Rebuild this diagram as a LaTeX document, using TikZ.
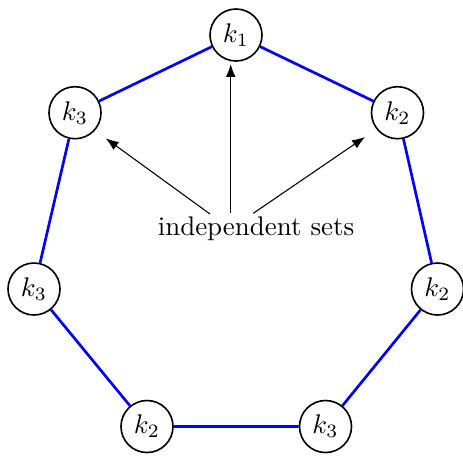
\documentclass[tikz,border=0pt]{standalone}
\usetikzlibrary{arrows.meta}
\begin{document}
\begin{tikzpicture}[x=0.3711pt,y=-0.3711pt,
  vtx/.style={circle,draw,line width=0.6pt,minimum size=19.3pt,inner sep=0pt},
  edge/.style={blue,line width=1pt},
  arr/.style={-{Latex},line width=0.4pt}]
\useasboundingbox (0,0) rectangle (463,455);
\node[vtx] (a) at (236,35) {$k_1$};
\node[vtx] (b) at (397.5,112.7) {$k_2$};
\node[vtx] (c) at (437.5,289) {$k_2$};
\node[vtx] (d) at (325.5,426.5) {$k_3$};
\node[vtx] (e) at (147,426.5) {$k_2$};
\node[vtx] (f) at (34,289) {$k_3$};
\node[vtx] (g) at (75,112.7) {$k_3$};
\draw[edge] (a) -- (b) -- (c) -- (d) -- (e) -- (f) -- (g) -- (a);
\node[inner sep=0pt] (txt) at (256,229) {independent sets};
\coordinate (s1) at (210,214);
\coordinate (s2) at (230.7,213);
\coordinate (s3) at (253.3,213.3);
\coordinate (t1) at (105.7,138.3);
\coordinate (t2) at (230.7,64);
\coordinate (t3) at (365,137);
\draw[arr] (s1) -- (t1);
\draw[arr] (s2) -- (t2);
\draw[arr] (s3) -- (t3);
\end{tikzpicture}
\end{document}
